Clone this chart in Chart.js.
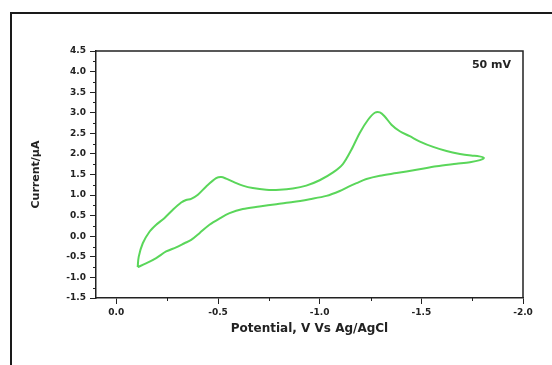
<!DOCTYPE html>
<html>
<head>
<meta charset="utf-8">
<script src="https://cdn.jsdelivr.net/npm/chart.js@4.4.1/dist/chart.umd.min.js"></script>
<style>
    html, body { margin: 0; padding: 0; background: #fff; }
    #wrap { position: relative; width: 552px; height: 365px; overflow: hidden; }
    #frame {
        position: absolute; left: 10px; top: 12px;
        width: 600px; height: 400px;
        border: 2px solid #1a1a1a;
    }
    #cv { position: absolute; left: 0; top: 0; }
</style>
</head>
<body>
<div id="wrap">
    <div id="frame"></div>
    <canvas id="cv" width="552" height="365"></canvas>
</div>
<script>
// ---------------------------------------------
// Data
// ---------------------------------------------
const potential = [
    -0.105, -0.110, -0.130, -0.163, -0.196, -0.236, -0.277, -0.319, -0.343, -0.368,
    -0.401, -0.442, -0.491, -0.516, -0.540, -0.581, -0.622, -0.671, -0.737, -0.803,
    -0.868, -0.934, -1.000, -1.066, -1.115, -1.156, -1.197, -1.238, -1.271, -1.296,
    -1.320, -1.353, -1.394, -1.443, -1.493, -1.558, -1.624, -1.690, -1.745, -1.785,
    -1.808,
    -1.788, -1.739, -1.673, -1.575, -1.476, -1.378, -1.296, -1.230, -1.181, -1.140,
    -1.099, -1.033, -0.951, -0.868, -0.787, -0.704, -0.622, -0.557, -0.507, -0.458,
    -0.409, -0.368, -0.335, -0.294, -0.245, -0.196, -0.146, -0.105
];
const current = [
    -0.75, -0.50, -0.17, 0.11, 0.28, 0.44, 0.64, 0.82, 0.88, 0.91,
    1.01, 1.21, 1.41, 1.44, 1.40, 1.31, 1.23, 1.17, 1.13, 1.13,
    1.16, 1.23, 1.36, 1.55, 1.76, 2.10, 2.51, 2.83, 3.00, 3.01,
    2.91, 2.71, 2.55, 2.43, 2.30, 2.17, 2.07, 2.00, 1.96, 1.94,
    1.90,
    1.85, 1.80, 1.76, 1.70, 1.615, 1.535, 1.47, 1.39, 1.29, 1.20,
    1.10, 0.98, 0.90, 0.83, 0.78, 0.72, 0.66, 0.56, 0.43, 0.28,
    0.075, -0.09, -0.17, -0.27, -0.37, -0.53, -0.66, -0.75
];
const xTickMin = -2.0, xTickMax = 0.1;
const yTickMin = -1.5, yTickMax = 4.5;
const scanLabel = "50 mV";
const xTitle = "Potential, V Vs Ag/AgCl";
const yTitle = "Current/\u03bcA";

const FONT = "'DejaVu Sans', sans-serif";
const INK = "#222";

// ---------------------------------------------
// Plugin: minor ticks, box, scan-rate label
// ---------------------------------------------
const framePlugin = {
    id: "frame",
    afterDraw(chart) {
        const { ctx, chartArea: a, scales } = chart;
        ctx.save();
        ctx.strokeStyle = INK;
        ctx.lineWidth = 1.5;
        ctx.beginPath();
        ctx.moveTo(a.left, a.top);
        ctx.lineTo(a.right, a.top);
        ctx.lineTo(a.right, a.bottom);
        ctx.stroke();

        // minor ticks at the 0.25 marks
        ctx.lineWidth = 1;
        ctx.beginPath();
        for (let v = yTickMin + 0.25; v < yTickMax; v += 0.5) {
            const py = Math.round(scales.y.getPixelForValue(v)) + 0.5;
            ctx.moveTo(a.left, py);
            ctx.lineTo(a.left - 3, py);
        }
        for (let v = xTickMin + 0.25; v < 0; v += 0.5) {
            const px = Math.round(scales.x.getPixelForValue(v)) + 0.5;
            ctx.moveTo(px, a.bottom);
            ctx.lineTo(px, a.bottom + 3);
        }
        ctx.stroke();

        ctx.fillStyle = INK;
        ctx.font = "bold 11px " + FONT;
        ctx.textAlign = "right";
        ctx.textBaseline = "middle";
        ctx.fillText(scanLabel, a.right - 12, a.top + 14);
        ctx.restore();
    }
};

const points = potential.map((p, i) => ({ x: p, y: current[i] }));

new Chart(document.getElementById("cv"), {
    type: "scatter",
    data: {
        datasets: [{
            data: points,
            showLine: true,
            borderColor: "#5ad65a",
            borderWidth: 2,
            pointRadius: 0,
            tension: 0.3,
            fill: false
        }]
    },
    options: {
        responsive: false,
        animation: false,
        layout: { padding: { left: 30, top: 51, right: 29, bottom: 29 } },
        plugins: { legend: { display: false }, tooltip: { enabled: false } },
        scales: {
            x: {
                type: "linear",
                reverse: true,
                min: xTickMin,
                max: xTickMax,
                afterFit(s) { s.height = 38; },
                grid: { drawOnChartArea: false, tickLength: 6, tickColor: INK },
                border: { color: INK, width: 1.5 },
                ticks: {
                    stepSize: 0.5,
                    includeBounds: false,
                    padding: 3,
                    color: INK,
                    font: { family: FONT, size: 9, weight: "bold" },
                    maxRotation: 0,
                    callback: v => v.toFixed(1)
                },
                title: {
                    display: true,
                    text: xTitle,
                    color: INK,
                    font: { family: FONT, size: 12, weight: "bold" },
                    padding: 0
                }
            },
            y: {
                min: yTickMin,
                max: yTickMax,
                afterFit(s) { s.width = 66; },
                grid: { drawOnChartArea: false, tickLength: 6, tickColor: INK },
                border: { color: INK, width: 1.5 },
                ticks: {
                    stepSize: 0.5,
                    padding: 4,
                    color: INK,
                    font: { family: FONT, size: 9, weight: "bold" },
                    callback: v => v.toFixed(1)
                },
                title: {
                    display: true,
                    text: yTitle,
                    color: INK,
                    font: { family: FONT, size: 11, weight: "bold" },
                    padding: 0
                }
            }
        }
    },
    plugins: [framePlugin]
});
</script>
</body>
</html>
